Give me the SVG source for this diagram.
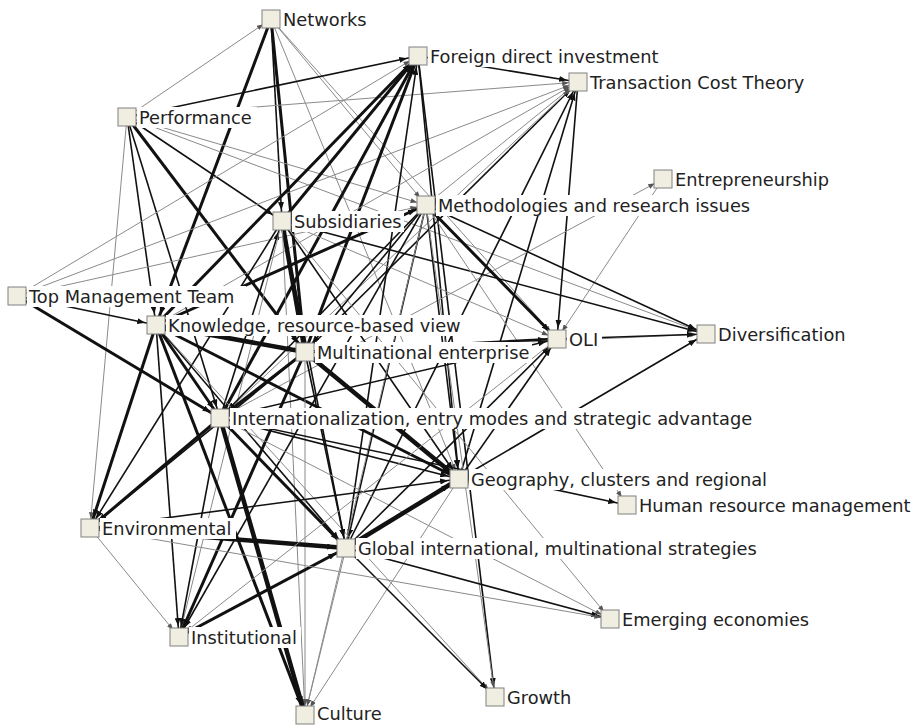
<svg xmlns="http://www.w3.org/2000/svg" width="914" height="726" viewBox="0 0 914 726">
<style>
.e1{stroke:#8a8a8a;stroke-width:1;fill:none;marker-end:url(#ag)}
.e2{stroke:#111;stroke-width:1.6;fill:none;marker-end:url(#ab)}
.e3{stroke:#111;stroke-width:3;fill:none;marker-end:url(#ab)}
.e4{stroke:#111;stroke-width:4.5;fill:none;marker-end:url(#ab)}
.sq{fill:#efeee0;stroke:#808080;stroke-width:1}
.lb{fill:#fff}
text{font-family:"DejaVu Sans",Verdana,sans-serif;font-size:17.8px;fill:#222}
</style>
<defs>
<marker id="ab" markerUnits="userSpaceOnUse" viewBox="0 0 8 6" markerWidth="8" markerHeight="6" refX="19" refY="3" orient="auto"><path d="M0,0 L8,3 L0,6 z" fill="#111"/></marker>
<marker id="ag" markerUnits="userSpaceOnUse" viewBox="0 0 8 6" markerWidth="7" markerHeight="5" refX="19" refY="3" orient="auto"><path d="M0,0 L8,3 L0,6 z" fill="#555"/></marker>
</defs>
<rect width="914" height="726" fill="#fff"/>
<g id="connectors">
<line class="e1" x1="127" y1="117" x2="271" y2="19"/>
<line class="e2" x1="271" y1="19" x2="282" y2="221"/>
<line class="e3" x1="271" y1="19" x2="305" y2="352"/>
<line class="e3" x1="271" y1="19" x2="156" y2="325"/>
<line class="e1" x1="271" y1="19" x2="426" y2="205"/>
<line class="e1" x1="271" y1="19" x2="459" y2="479"/>
<line class="e1" x1="271" y1="19" x2="557" y2="339"/>
<line class="e2" x1="127" y1="117" x2="418" y2="56"/>
<line class="e1" x1="127" y1="117" x2="578" y2="82"/>
<line class="e1" x1="127" y1="117" x2="426" y2="205"/>
<line class="e1" x1="127" y1="117" x2="706" y2="334"/>
<line class="e2" x1="127" y1="117" x2="282" y2="221"/>
<line class="e3" x1="127" y1="117" x2="305" y2="352"/>
<line class="e2" x1="127" y1="117" x2="156" y2="325"/>
<line class="e2" x1="127" y1="117" x2="220" y2="418"/>
<line class="e1" x1="127" y1="117" x2="90" y2="528"/>
<line class="e1" x1="17" y1="296" x2="418" y2="56"/>
<line class="e1" x1="17" y1="296" x2="578" y2="82"/>
<line class="e1" x1="17" y1="296" x2="426" y2="205"/>
<line class="e2" x1="17" y1="296" x2="156" y2="325"/>
<line class="e3" x1="17" y1="296" x2="220" y2="418"/>
<line class="e3" x1="282" y1="221" x2="418" y2="56"/>
<line class="e3" x1="156" y1="325" x2="418" y2="56"/>
<line class="e3" x1="305" y1="352" x2="418" y2="56"/>
<line class="e3" x1="220" y1="418" x2="418" y2="56"/>
<line class="e2" x1="346" y1="548" x2="418" y2="56"/>
<line class="e2" x1="418" y1="56" x2="578" y2="82"/>
<line class="e2" x1="418" y1="56" x2="495" y2="697"/>
<line class="e2" x1="418" y1="56" x2="459" y2="479"/>
<line class="e2" x1="305" y1="352" x2="578" y2="82"/>
<line class="e1" x1="220" y1="418" x2="578" y2="82"/>
<line class="e2" x1="346" y1="548" x2="578" y2="82"/>
<line class="e2" x1="459" y1="479" x2="578" y2="82"/>
<line class="e2" x1="578" y1="82" x2="557" y2="339"/>
<line class="e1" x1="426" y1="205" x2="578" y2="82"/>
<line class="e1" x1="156" y1="325" x2="578" y2="82"/>
<line class="e1" x1="220" y1="418" x2="663" y2="179"/>
<line class="e1" x1="663" y1="179" x2="557" y2="339"/>
<line class="e4" x1="282" y1="221" x2="305" y2="352"/>
<line class="e2" x1="282" y1="221" x2="706" y2="334"/>
<line class="e1" x1="282" y1="221" x2="557" y2="339"/>
<line class="e2" x1="282" y1="221" x2="459" y2="479"/>
<line class="e2" x1="220" y1="418" x2="282" y2="221"/>
<line class="e2" x1="282" y1="221" x2="90" y2="528"/>
<line class="e2" x1="282" y1="221" x2="346" y2="548"/>
<line class="e1" x1="282" y1="221" x2="610" y2="619"/>
<line class="e1" x1="282" y1="221" x2="305" y2="715"/>
<line class="e1" x1="282" y1="221" x2="179" y2="637"/>
<line class="e3" x1="156" y1="325" x2="426" y2="205"/>
<line class="e3" x1="426" y1="205" x2="557" y2="339"/>
<line class="e2" x1="426" y1="205" x2="706" y2="334"/>
<line class="e2" x1="426" y1="205" x2="459" y2="479"/>
<line class="e1" x1="426" y1="205" x2="495" y2="697"/>
<line class="e2" x1="426" y1="205" x2="305" y2="352"/>
<line class="e2" x1="426" y1="205" x2="220" y2="418"/>
<line class="e2" x1="426" y1="205" x2="346" y2="548"/>
<line class="e2" x1="426" y1="205" x2="179" y2="637"/>
<line class="e1" x1="426" y1="205" x2="627" y2="505"/>
<line class="e1" x1="426" y1="205" x2="305" y2="715"/>
<line class="e4" x1="156" y1="325" x2="305" y2="352"/>
<line class="e3" x1="156" y1="325" x2="459" y2="479"/>
<line class="e3" x1="156" y1="325" x2="220" y2="418"/>
<line class="e3" x1="156" y1="325" x2="90" y2="528"/>
<line class="e2" x1="156" y1="325" x2="179" y2="637"/>
<line class="e3" x1="156" y1="325" x2="305" y2="715"/>
<line class="e2" x1="156" y1="325" x2="346" y2="548"/>
<line class="e1" x1="156" y1="325" x2="495" y2="697"/>
<line class="e3" x1="305" y1="352" x2="557" y2="339"/>
<line class="e3" x1="305" y1="352" x2="220" y2="418"/>
<line class="e4" x1="305" y1="352" x2="459" y2="479"/>
<line class="e2" x1="305" y1="352" x2="346" y2="548"/>
<line class="e2" x1="305" y1="352" x2="90" y2="528"/>
<line class="e3" x1="305" y1="352" x2="179" y2="637"/>
<line class="e1" x1="305" y1="352" x2="305" y2="715"/>
<line class="e1" x1="305" y1="352" x2="706" y2="334"/>
<line class="e2" x1="220" y1="418" x2="557" y2="339"/>
<line class="e2" x1="220" y1="418" x2="459" y2="479"/>
<line class="e3" x1="220" y1="418" x2="346" y2="548"/>
<line class="e3" x1="220" y1="418" x2="90" y2="528"/>
<line class="e2" x1="220" y1="418" x2="179" y2="637"/>
<line class="e4" x1="220" y1="418" x2="305" y2="715"/>
<line class="e2" x1="220" y1="418" x2="627" y2="505"/>
<line class="e1" x1="220" y1="418" x2="610" y2="619"/>
<line class="e2" x1="459" y1="479" x2="706" y2="334"/>
<line class="e4" x1="346" y1="548" x2="459" y2="479"/>
<line class="e2" x1="90" y1="528" x2="459" y2="479"/>
<line class="e1" x1="459" y1="479" x2="305" y2="715"/>
<line class="e2" x1="459" y1="479" x2="557" y2="339"/>
<line class="e4" x1="90" y1="528" x2="346" y2="548"/>
<line class="e3" x1="179" y1="637" x2="346" y2="548"/>
<line class="e2" x1="346" y1="548" x2="610" y2="619"/>
<line class="e2" x1="346" y1="548" x2="495" y2="697"/>
<line class="e2" x1="346" y1="548" x2="557" y2="339"/>
<line class="e1" x1="346" y1="548" x2="305" y2="715"/>
<line class="e1" x1="90" y1="528" x2="179" y2="637"/>
<line class="e1" x1="90" y1="528" x2="610" y2="619"/>
<line class="e1" x1="557" y1="339" x2="179" y2="637"/>
<line class="e2" x1="557" y1="339" x2="706" y2="334"/>
</g>
<g id="n-networks"><rect class="sq" x="262" y="10" width="18" height="18"/><rect class="lb" x="281" y="9" width="89" height="21"/><text x="283" y="26">Networks</text></g>
<g id="n-fdi"><rect class="sq" x="409" y="47" width="18" height="18"/><rect class="lb" x="428" y="46" width="236" height="21"/><text x="430" y="63">Foreign direct investment</text></g>
<g id="n-tct"><rect class="sq" x="569" y="73" width="18" height="18"/><rect class="lb" x="588" y="72" width="225" height="21"/><text x="590" y="89">Transaction Cost Theory</text></g>
<g id="n-performance"><rect class="sq" x="118" y="108" width="18" height="18"/><rect class="lb" x="137" y="107" width="120" height="21"/><text x="139" y="124">Performance</text></g>
<g id="n-entrepreneurship"><rect class="sq" x="654" y="170" width="18" height="18"/><rect class="lb" x="673" y="169" width="160" height="21"/><text x="675" y="186">Entrepreneurship</text></g>
<g id="n-subsidiaries"><rect class="sq" x="273" y="212" width="18" height="18"/><rect class="lb" x="292" y="211" width="112" height="21"/><text x="294" y="228">Subsidiaries</text></g>
<g id="n-methodologies"><rect class="sq" x="417" y="196" width="18" height="18"/><rect class="lb" x="436" y="195" width="320" height="21"/><text x="438" y="212">Methodologies and research issues</text></g>
<g id="n-tmt"><rect class="sq" x="8" y="287" width="18" height="18"/><rect class="lb" x="27" y="286" width="219" height="21"/><text x="29" y="303">Top Management Team</text></g>
<g id="n-knowledge"><rect class="sq" x="147" y="316" width="18" height="18"/><rect class="lb" x="166" y="315" width="304" height="21"/><text x="168" y="332">Knowledge, resource-based view</text></g>
<g id="n-oli"><rect class="sq" x="548" y="330" width="18" height="18"/><rect class="lb" x="567" y="329" width="35" height="21"/><text x="569" y="346">OLI</text></g>
<g id="n-diversification"><rect class="sq" x="697" y="325" width="18" height="18"/><rect class="lb" x="716" y="324" width="131" height="21"/><text x="718" y="341">Diversification</text></g>
<g id="n-mne"><rect class="sq" x="296" y="343" width="18" height="18"/><rect class="lb" x="315" y="342" width="217" height="21"/><text x="317" y="359">Multinational enterprise</text></g>
<g id="n-internationalization"><rect class="sq" x="211" y="409" width="18" height="18"/><rect class="lb" x="230" y="408" width="526" height="21"/><text x="232" y="425">Internationalization, entry modes and strategic advantage</text></g>
<g id="n-geography"><rect class="sq" x="450" y="470" width="18" height="18"/><rect class="lb" x="469" y="469" width="303" height="21"/><text x="471" y="486">Geography, clusters and regional</text></g>
<g id="n-hrm"><rect class="sq" x="618" y="496" width="18" height="18"/><rect class="lb" x="637" y="495" width="277" height="21"/><text x="639" y="512">Human resource management</text></g>
<g id="n-environmental"><rect class="sq" x="81" y="519" width="18" height="18"/><rect class="lb" x="100" y="518" width="136" height="21"/><text x="102" y="535">Environmental</text></g>
<g id="n-global"><rect class="sq" x="337" y="539" width="18" height="18"/><rect class="lb" x="356" y="538" width="403" height="21"/><text x="358" y="555">Global international, multinational strategies</text></g>
<g id="n-emerging"><rect class="sq" x="601" y="610" width="18" height="18"/><rect class="lb" x="620" y="609" width="193" height="21"/><text x="622" y="626">Emerging economies</text></g>
<g id="n-institutional"><rect class="sq" x="170" y="628" width="18" height="18"/><rect class="lb" x="189" y="627" width="112" height="21"/><text x="191" y="644">Institutional</text></g>
<g id="n-growth"><rect class="sq" x="486" y="688" width="18" height="18"/><rect class="lb" x="505" y="687" width="72" height="21"/><text x="507" y="704">Growth</text></g>
<g id="n-culture"><rect class="sq" x="296" y="706" width="18" height="18"/><rect class="lb" x="315" y="705" width="71" height="21"/><text x="317" y="720">Culture</text></g>
</svg>
